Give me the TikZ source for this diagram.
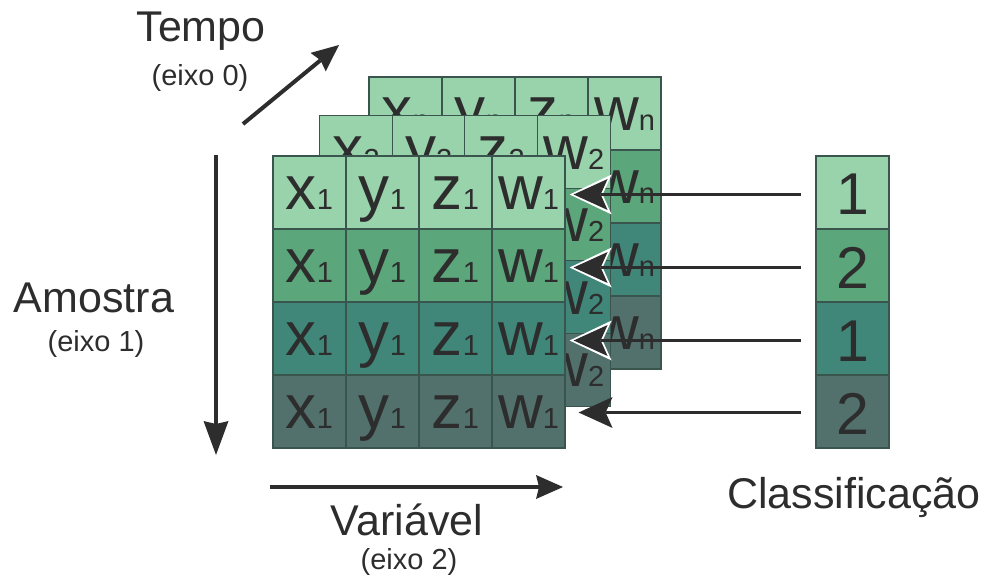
\documentclass[tikz,border=0pt]{standalone}
\usepackage{fontspec}
\setmainfont{Liberation Sans}
\usetikzlibrary{arrows.meta}

% row shades, from light mint to grey teal
\definecolor{rowA}{RGB}{153,211,172}
\definecolor{rowB}{RGB}{91,166,122}
\definecolor{rowC}{RGB}{64,135,122}
\definecolor{rowD}{RGB}{82,112,108}
\definecolor{cellline}{RGB}{58,84,78}
\definecolor{ink}{RGB}{45,45,45}

% a large variable letter followed by its small index on the same baseline
\newcommand{\cellsym}[2]{\fontsize{62}{62}\selectfont #1{\fontsize{29}{29}\selectfont #2}}

\tikzset{
  cell/.style={draw=cellline, line width=1.2pt, minimum width=73pt, minimum height=73pt,
    inner sep=0pt, text=ink, text height=37pt, text depth=3pt},
  classcell/.style={cell, text height=45pt, text depth=0pt, font=\fontsize{59}{59}\selectfont},
  axisarrow/.style={draw=ink, line width=4pt,
    -{Stealth[length=27pt,width=24pt,inset=3pt,line width=0pt]}},
  labelarrow/.style={draw=ink, line width=3.5pt,
    -{Stealth[length=34pt,width=31pt,inset=7pt,line width=0pt]}},
  halo/.style={draw=white, line width=1pt,
    -{Stealth[length=42pt,width=40pt,inset=9pt,line width=0pt]}},
  biglabel/.style={anchor=base, text=ink, inner sep=0pt, font=\fontsize{43}{43}\selectfont},
  smalllabel/.style={anchor=base, text=ink, inner sep=0pt, font=\fontsize{29}{29}\selectfont},
}

\begin{document}
\begin{tikzpicture}[x=1pt, y=-1pt]
\useasboundingbox (0,0) rectangle (995,577);

% back slice (time step n)
\foreach \r/\fc in {1/rowA,2/rowB,3/rowC,4/rowD}
  \foreach \c/\l in {1/x,2/y,3/z,4/w}
    \node[cell, fill=\fc] (b\r\c) at ({369+73*\c-36.5},{77+73*\r-36.5}) {\cellsym{\l}{n}};

% middle slice (time step 2)
\foreach \r/\fc in {1/rowA,2/rowB,3/rowC,4/rowD}
  \foreach \c/\l in {1/x,2/y,3/z,4/w}
    \node[cell, fill=\fc] (m\r\c) at ({320+72.5*\c-36.25},{116+72.5*\r-36.25}) {\cellsym{\l}{2}};

% front slice (time step 1)
\foreach \r/\fc in {1/rowA,2/rowB,3/rowC,4/rowD}
  \foreach \c/\l in {1/x,2/y,3/z,4/w}
    \node[cell, fill=\fc] (f\r\c) at ({273+73*\c-36.5},{156+73*\r-36.5}) {\cellsym{\l}{1}};

% class labels per sample
\foreach \r/\fc/\v in {1/rowA/1,2/rowB/2,3/rowC/1,4/rowD/2}
  \node[classcell, fill=\fc] (k\r) at (852.5,{156+73*\r-36.5}) {\v};

% arrows from each class label to its sample row
\foreach \r in {1,2,3} {
  \draw[halo] ([xshift=-14pt,yshift=-2pt]k\r.west) -- ([xshift=4pt,yshift=-2pt]f\r4.east);
  \draw[labelarrow] ([xshift=-14pt,yshift=-2pt]k\r.west) -- ([xshift=8pt,yshift=-2pt]f\r4.east);
}
\draw[labelarrow] ([xshift=-14pt,yshift=-1pt]k4.west) -- ([xshift=13pt,yshift=-1pt]f44.east);

% axes
\coordinate (t0) at (243,124);
\coordinate (t1) at (339,45);
\coordinate (a0) at (216,155);
\coordinate (a1) at (216,455);
\coordinate (v0) at (270,487);
\coordinate (v1) at (563,487);
\draw[axisarrow] (t0) -- (t1);
\draw[axisarrow, -{Stealth[length=34pt,width=25pt,inset=3pt,line width=0pt]}] (a0) -- (a1);
\draw[axisarrow] (v0) -- (v1);

% axis and column captions
\node[biglabel] (tempo) at (201,42) {Tempo};
\node[smalllabel] (tempoax) at (200,86) {(eixo 0)};
\node[biglabel] (amostra) at (94,312) {Amostra};
\node[smalllabel] (amostraax) at (96,351) {(eixo 1)};
\node[biglabel] (variavel) at (407,535) {Variável};
\node[smalllabel] (variavelax) at (409,569) {(eixo 2)};
\node[biglabel] (classif) at (854,508) {Classificação};
\end{tikzpicture}
\end{document}
